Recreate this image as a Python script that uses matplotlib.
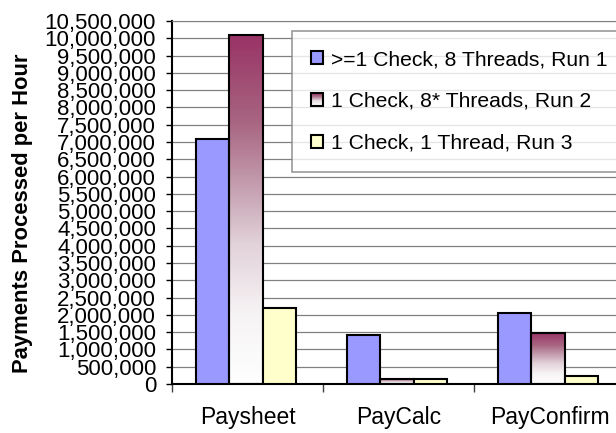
import matplotlib
matplotlib.use("Agg")
import matplotlib.pyplot as plt
import numpy as np
from matplotlib.colors import LinearSegmentedColormap
from matplotlib.patches import Rectangle, Patch
from matplotlib.legend_handler import HandlerBase
from matplotlib.ticker import FuncFormatter, MultipleLocator, FixedLocator

plt.rcParams['font.family'] = ['Liberation Sans', 'DejaVu Sans']

categories = ["Paysheet", "PayCalc", "PayConfirm"]
series_names = [">=1 Check, 8 Threads, Run 1",
                "1 Check, 8* Threads, Run 2",
                "1 Check, 1 Thread, Run 3"]
run1 = [7100000, 1420000, 2060000]
run2 = [10100000, 150000, 1480000]
run3 = [2200000, 150000, 220000]

blue = "#9999FF"
yellow = "#FFFFCC"
plum = LinearSegmentedColormap.from_list(
    "plum", [(0, "white"), (0.2, "#f6f3f5"), (0.4, "#e2d2d9"),
             (0.55, "#c7a3b3"), (0.75, "#a86581"), (1.0, "#993366")])


class GradientHandler(HandlerBase):
    # legend swatch drawn as stacked strips
    def create_artists(self, legend, orig, xd, yd, w, h, fontsize, trans):
        n = 12
        arts = []
        for i in range(n):
            arts.append(Rectangle((-xd, -yd + h * i / n), w, h / n + 0.05,
                                  facecolor=plum((i + 0.5) / n), edgecolor="none",
                                  transform=trans))
        arts.append(Rectangle((-xd, -yd), w, h, facecolor="none",
                              edgecolor="black", lw=1.5, transform=trans))
        return arts


fig = plt.figure(figsize=(6.16, 4.33), dpi=100)
ax = fig.add_axes([172 / 616, 49 / 433, 453 / 616, 363 / 433])

x = np.arange(len(categories))
w = 0.22
off = -0.01
ax.bar(x + off - w, run1, w, color=blue, edgecolor="black", lw=1.5, zorder=3)
bars2 = ax.bar(x + off, run2, w, facecolor="none", edgecolor="black", lw=1.5, zorder=3)
ax.bar(x + off + w, run3, w, color=yellow, edgecolor="black", lw=1.5, zorder=3)

grad = np.linspace(1, 0, 256).reshape(-1, 1)
for b in bars2:
    x0, h = b.get_x(), b.get_height()
    im = ax.imshow(grad, cmap=plum, extent=(x0, x0 + b.get_width(), 0, h),
                   aspect="auto", origin="upper", zorder=2, interpolation="bilinear")
    im.set_clip_path(b)

ax.set_xlim(-0.5, 2.5)
ax.set_ylim(0, 10500000)
ax.yaxis.set_major_locator(MultipleLocator(500000))
ax.yaxis.set_major_formatter(FuncFormatter(lambda v, p: f"{int(v):,}"))
ax.grid(axis="y", color="#808080", lw=0.9, zorder=0)

ax.set_xticks(x)
ax.set_xticklabels(categories)
ax.xaxis.set_minor_locator(FixedLocator([-0.5, 0.5, 1.5, 2.5]))
ax.tick_params(axis="x", which="major", length=0, pad=16, labelsize=16.5)
ax.tick_params(axis="x", which="minor", length=6, width=1, color="#404040", direction="out")
ax.tick_params(axis="y", length=4.5, width=1, pad=7, labelsize=16)

for s in ["left", "bottom"]:
    ax.spines[s].set_linewidth(1.5)
ax.spines["top"].set_color("#808080")
ax.spines["right"].set_visible(False)

ax.set_ylabel("Payments Processed per Hour", fontsize=15.8, fontweight="bold")
ax.yaxis.set_label_coords(-0.307, 0.471)

handles = [Patch(facecolor=blue, edgecolor="black", lw=1.5),
           Patch(facecolor="white", edgecolor="black"),
           Patch(facecolor=yellow, edgecolor="black", lw=1.5)]
leg = fig.legend(handles, series_names, loc="upper left",
                 bbox_to_anchor=(292 / 616, 1 - 31 / 433),
                 fontsize=15.2, frameon=True, fancybox=False, borderaxespad=0,
                 handlelength=0.56, handleheight=0.56, handletextpad=0.4,
                 labelspacing=1.08, borderpad=0.9,
                 handler_map={handles[1]: GradientHandler()})
leg.get_frame().set_edgecolor("#808080")
leg.get_frame().set_linewidth(1.2)

fig.savefig("out.png", dpi=100)
